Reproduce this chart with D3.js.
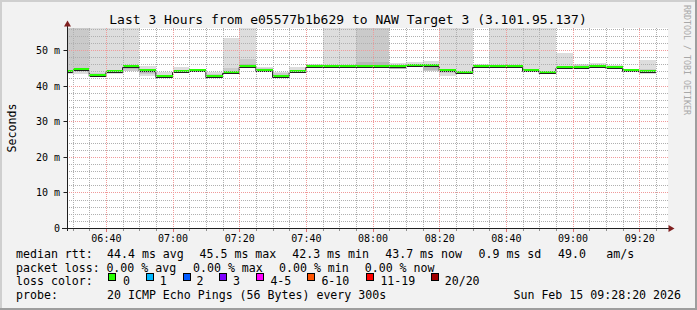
<!DOCTYPE html>
<html>
<head>
<meta charset="utf-8">
<script src="https://cdn.jsdelivr.net/npm/d3@7"></script>
<style>
  html, body { margin: 0; padding: 0; background: #f2f2f2; }
  svg { display: block; }
  text { font-family: "DejaVu Sans Mono", monospace; fill: #000; }
</style>
</head>
<body>
<div id="chart"></div>
<script>
// step end times (each step covers the 300s before it)
const stepEnds = ["06:30","06:35","06:40","06:45","06:50","06:55","07:00","07:05","07:10","07:15",
  "07:20","07:25","07:30","07:35","07:40","07:45","07:50","07:55","08:00","08:05",
  "08:10","08:15","08:20","08:25","08:30","08:35","08:40","08:45","08:50","08:55",
  "09:00","09:05","09:10","09:15","09:20","09:25"];

// median rtt in ms
const medianMs = [43.7,44.3,42.6,43.7,45.3,44.1,42.3,43.7,44.1,42.4,
  43.6,45.3,44.0,42.4,43.7,45.2,45.2,45.2,45.3,45.2,
  45.2,45.4,45.5,44.0,43.5,45.3,45.2,45.1,44.0,43.4,
  44.9,44.9,45.2,44.9,44.1,43.7];

// smoke: outer pair (lightest), second pair, third pair. 60 = above the top
const smokeOuterLo = [43.3,43.3,42.3,43.3,44.1,42.8,42.1,43.5,43.9,42.1,43.3,45.0,43.8,42.2,43.4,45.0,45.0,45.0,
  45.0,45.0,44.6,45.2,44.0,42.8,43.2,45.1,45.1,45.0,43.9,43.3,44.8,44.8,45.1,44.8,44.0,43.3];
const smokeOuterHi = [60,60,60,60,60,45.4,43.8,45.3,44.6,43.8,53.4,60,45.3,43.8,45.1,46.1,60,60,
  60,60,46.3,46.7,46.8,60,60,46.2,60,60,60,60,49.1,46.2,46.3,45.9,44.6,47.3];
const smokeMidLo = [43.6,44.1,42.5,43.5,44.2,43.2,42.2,43.6,44.0,42.2,43.4,45.1,43.9,42.3,43.5,45.1,45.1,45.1,
  45.1,45.1,44.7,45.3,44.1,43.5,43.4,45.2,45.15,45.05,44.0,43.4,44.9,44.9,45.15,44.85,44.05,43.5];
const smokeMidHi = [60,60,43.5,44.2,45.5,44.8,43.1,44.3,44.3,43.2,45.0,47.5,45.0,43.4,44.4,45.6,45.6,45.6,
  60,60,45.8,46.1,45.8,44.5,44.0,45.7,45.6,45.6,44.4,43.9,45.6,45.9,45.7,45.4,44.3,44.6];
const smokeInnerLo = [43.7,44.2,42.6,43.6,44.6,43.6,42.3,43.7,44.05,42.3,43.5,45.2,44.0,42.35,43.6,45.15,45.15,45.15,
  45.2,45.2,44.8,45.35,44.5,43.8,43.45,45.25,45.2,45.1,44.0,43.4,45.0,44.95,45.2,44.9,44.1,43.6];
const smokeInnerHi = [44.5,45.0,43.0,44.0,45.3,44.4,42.6,44.0,44.2,42.7,44.2,46.0,44.8,42.8,44.0,45.4,45.4,45.4,
  46.7,46.7,45.3,45.7,45.6,44.2,43.7,45.5,45.4,45.3,44.2,43.6,45.5,45.3,45.4,45.1,44.2,44.0];

const xTickLabels = ["06:40","07:00","07:20","07:40","08:00","08:20","08:40","09:00","09:20"];
const yTickValues = [0, 10, 20, 30, 40, 50];

const lossColors = ["#26ff00","#00b8ff","#0059ff","#7e00ff","#ff00ff","#ff5500","#ff0000","#a00000"];
const lossLabels = ["0","1","2","3","4-5","6-10","11-19","20/20"];

const W = 697, H = 310;
const parseT = d3.utcParse("%Y-%m-%d %H:%M:%S");
const day = "2026-02-15 ";
const tStart = parseT(day + "06:28:20");
const tEnd = parseT(day + "09:28:20");

const x = d3.scaleUtc().domain([tStart, tEnd]).range([67, 667]);
const y = d3.scaleLinear().domain([0, 56.18]).range([228, 28]);

const steps = stepEnds.map((s, i) => {
    const end = parseT(day + s + ":00");
    return {
        start: new Date(+end - 300000),
        end: end,
        median: medianMs[i],
        layers: [
            [smokeOuterLo[i], smokeOuterHi[i]],
            [smokeMidLo[i], smokeMidHi[i]],
            [smokeInnerLo[i], smokeInnerHi[i]],
        ],
    };
});

const svg = d3.select('#chart').append('svg')
    .attr('width', W)
    .attr('height', H);

svg.append('rect').attr('width', W).attr('height', H).attr('fill', '#f2f2f2');

// frame shading
svg.append('rect').attr('x', 0).attr('y', 0).attr('width', W).attr('height', 2).attr('fill', '#cfcfcf');
svg.append('rect').attr('x', 0).attr('y', 0).attr('width', 2).attr('height', H).attr('fill', '#cfcfcf');
svg.append('rect').attr('x', W - 2).attr('y', 0).attr('width', 2).attr('height', H).attr('fill', '#9e9e9e');
svg.append('rect').attr('x', 0).attr('y', H - 2).attr('width', W).attr('height', 2).attr('fill', '#9e9e9e');

const defs = svg.append('defs');
defs.append('clipPath').attr('id', 'plotClip')
    .append('rect').attr('x', 67).attr('y', 28).attr('width', 600).attr('height', 200);

// canvas
svg.append('rect')
    .attr('x', 67).attr('y', 28)
    .attr('width', 601).attr('height', 200)
    .attr('fill', '#fff');

const plot = svg.append('g').attr('clip-path', 'url(#plotClip)');

// smoke
const smokeColors = ['#dddddd', '#cacaca', '#b7b7b7'];
smokeColors.forEach((c, li) => {
    plot.append('g').selectAll('rect')
        .data(steps)
        .join('rect')
        .attr('shape-rendering', 'crispEdges')
        .attr('x', d => x(d.start))
        .attr('width', d => x(d.end) - x(d.start))
        .attr('y', d => y(d.layers[li][1]))
        .attr('height', d => y(d.layers[li][0]) - y(d.layers[li][1]))
        .attr('fill', c);
});

// grid: dotted lines built as runs of 1px dots
const majorTimes = xTickLabels.map(s => parseT(day + s + ":00"));
const minorTimes = stepEnds.filter(s => xTickLabels.indexOf(s) < 0).map(s => parseT(day + s + ":00"));
const minorY = [2, 4, 6, 8, 12, 14, 16, 18, 22, 24, 26, 28, 32, 34, 36, 38, 42, 44, 46, 48, 52, 54, 56];

function vDots(px) {
    const p = d3.path();
    for (let yy = 28; yy < 228; yy += 2) p.rect(px, yy, 1, 1);
    return p.toString();
}
function hDots(py) {
    const p = d3.path();
    for (let xx = 67; xx < 668; xx += 2) p.rect(xx, py, 1, 1);
    return p.toString();
}

const minorColor = '#b0b0b0';
const majorColor = '#f09a9a';
const grid = svg.append('g').attr('shape-rendering', 'crispEdges');
grid.append('g').selectAll('path').data(minorTimes).join('path')
    .attr('d', d => vDots(Math.round(x(d))))
    .attr('fill', minorColor);
grid.append('g').selectAll('path').data(minorY).join('path')
    .attr('d', d => hDots(Math.round(y(d))))
    .attr('fill', minorColor);
grid.append('g').selectAll('path').data(majorTimes).join('path')
    .attr('d', d => vDots(Math.round(x(d))))
    .attr('fill', majorColor);
grid.append('g').selectAll('path').data(yTickValues.slice(1)).join('path')
    .attr('d', d => hDots(Math.round(y(d))))
    .attr('fill', majorColor);

// median line + loss colour band
const medLine = d3.line()
    .curve(d3.curveStepAfter)
    .x(d => d.t)
    .y(d => d.v);
const medPts = steps.map(d => ({ t: x(d.start), v: Math.round(y(d.median)) + 0.5 }));
medPts.push({ t: x(steps[steps.length - 1].end), v: medPts[medPts.length - 1].v });
plot.append('path')
    .attr('d', medLine(medPts))
    .attr('fill', 'none')
    .attr('stroke', '#202020')
    .attr('stroke-width', 1);

plot.append('g').selectAll('rect')
    .data(steps)
    .join('rect')
    .attr('shape-rendering', 'crispEdges')
    .attr('x', d => x(d.start))
    .attr('width', d => x(d.end) - x(d.start))
    .attr('y', d => Math.round(y(d.median)) - 2)
    .attr('height', 2)
    .attr('fill', lossColors[0]);

// x ticks under the axis
const tickG = svg.append('g').attr('shape-rendering', 'crispEdges');
tickG.append('g').selectAll('rect').data(minorTimes).join('rect')
    .attr('x', d => Math.round(x(d))).attr('y', 229)
    .attr('width', 1).attr('height', 2)
    .attr('fill', '#909090');
tickG.append('g').selectAll('rect').data(majorTimes).join('rect')
    .attr('x', d => Math.round(x(d))).attr('y', 229)
    .attr('width', 1).attr('height', 3)
    .attr('fill', '#e07070');

// axes
const xAxis = svg.append('g')
    .attr('transform', 'translate(0,228)')
    .call(d3.axisBottom(x).tickValues(majorTimes).tickFormat(d3.utcFormat('%H:%M')).tickSize(0));
xAxis.select('.domain').remove();
xAxis.selectAll('text')
    .attr('y', 13.5).attr('dy', 0)
    .style('font-family', '"DejaVu Sans Mono", monospace')
    .style('font-size', '10px')
    .attr('fill', '#000');

const yAxis = svg.append('g')
    .attr('transform', 'translate(67.5,0)')
    .call(d3.axisLeft(y).tickValues(yTickValues)
        .tickFormat(d => d === 0 ? '0' : d + ' m')
        .tickSizeInner(4).tickSizeOuter(0).tickPadding(3.5));
yAxis.select('.domain').remove();
yAxis.selectAll('.tick line').attr('stroke', '#1f1f1f');
yAxis.selectAll('.tick').attr('transform', d => 'translate(0,' + (Math.round(y(d)) + 0.5) + ')');
yAxis.selectAll('text')
    .style('font-family', '"DejaVu Sans Mono", monospace')
    .style('font-size', '10px')
    .attr('fill', '#000');

svg.append('line')
    .attr('x1', 62).attr('x2', 670)
    .attr('y1', 228.5).attr('y2', 228.5)
    .attr('stroke', '#1f1f1f');
svg.append('line')
    .attr('x1', 67.5).attr('x2', 67.5)
    .attr('y1', 231).attr('y2', 25)
    .attr('stroke', '#1f1f1f');
svg.append('path')
    .attr('d', 'M67.5,20.5 L64,26.5 L71,26.5 Z')
    .attr('fill', '#802020');
svg.append('path')
    .attr('d', 'M674.5,228.5 L668.5,225 L668.5,232 Z')
    .attr('fill', '#802020');

// title and side texts
svg.append('text')
    .attr('x', 348).attr('y', 24)
    .attr('text-anchor', 'middle')
    .style('font-size', '13px')
    .text('Last 3 Hours from e05577b1b629 to NAW Target 3 (3.101.95.137)');

svg.append('text')
    .attr('transform', 'translate(15.5,128) rotate(-90)')
    .attr('text-anchor', 'middle')
    .style('font-size', '11.6px')
    .text('Seconds');

svg.append('text')
    .attr('transform', 'translate(684,5) rotate(90)')
    .style('font-size', '8.3px')
    .style('fill', '#a8a8a8')
    .text('RRDTOOL / TOBI OETIKER');

// legend
const legendRows = [
    { y: 258, items: [[16, 'median rtt:'], [107, '44.4 ms avg'], [199.5, '45.5 ms max'], [292.2, '42.3 ms min'],
        [385.2, '43.7 ms now'], [478.5, '0.9 ms sd'], [558, '49.0'], [606.2, 'am/s']] },
    { y: 271.5, items: [[16, 'packet loss:'], [106.4, '0.00 % avg'], [193, '0.00 % max'], [279, '0.00 % min'],
        [364.7, '0.00 % now']] },
    { y: 285, items: [[16, 'loss color:']] },
    { y: 298.5, items: [[16, 'probe:'], [107, '20 ICMP Echo Pings (56 Bytes) every 300s']] },
];
const legend = svg.append('g').style('font-size', '11.6px');
legendRows.forEach(row => {
    row.items.forEach(([lx, t]) => {
        legend.append('text')
            .attr('x', lx).attr('y', row.y)
            .style('white-space', 'pre')
            .text(t);
    });
});
legend.append('text')
    .attr('x', 681).attr('y', 298.5)
    .attr('text-anchor', 'end')
    .text('Sun Feb 15 09:28:20 2026');

const swatchX = [108, 145.5, 182.5, 219, 256, 306.5, 365.5, 430.5];
const swatchLabelX = [123, 159.7, 196.4, 233, 270.4, 321.4, 380.4, 444.7];
lossColors.forEach((c, i) => {
    legend.append('rect')
        .attr('x', Math.round(swatchX[i]) + 0.5).attr('y', 273.5)
        .attr('width', 7).attr('height', 7)
        .attr('fill', c)
        .attr('stroke', '#000');
    legend.append('text')
        .attr('x', swatchLabelX[i]).attr('y', 285)
        .text(lossLabels[i]);
});
</script>
</body>
</html>
